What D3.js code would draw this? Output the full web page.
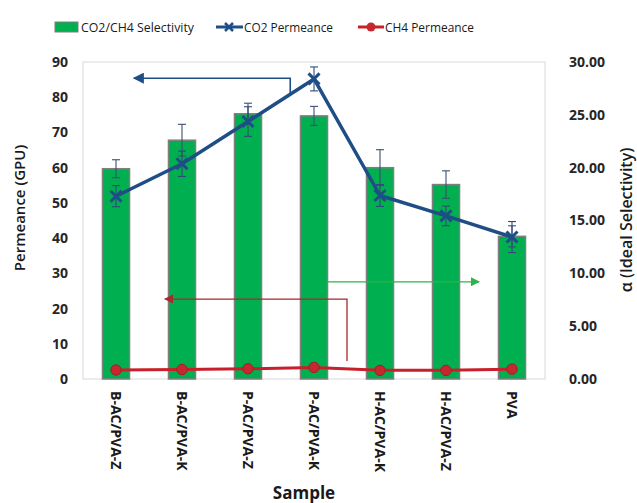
<!DOCTYPE html>
<html><head><meta charset="utf-8">
<script src="https://cdn.jsdelivr.net/npm/d3@7/dist/d3.min.js"></script>
<style>
body{margin:0;background:#fff;}
text{font-family:"Open Sans","Noto Sans",sans-serif;}
</style></head>
<body><svg id="c" width="637" height="503"></svg>
<script>
const samples = ["B-AC/PVA-Z","B-AC/PVA-K","P-AC/PVA-Z","P-AC/PVA-K","H-AC/PVA-K","H-AC/PVA-Z","PVA"];
const selectivity = [19.9, 22.6, 25.1, 24.9, 20.0, 18.4, 13.5];
const selectivityErr = [0.85, 1.5, 1.0, 0.9, 1.7, 1.3, 1.0];
const co2Permeance = [51.9, 61.1, 73.1, 85.2, 52.1, 46.3, 40.3];
const co2Err = [3.0, 3.6, 4.2, 3.4, 3.1, 2.8, 4.4];
const ch4Permeance = [2.55, 2.7, 2.9, 3.3, 2.45, 2.45, 2.8];
const leftTicks = [0,10,20,30,40,50,60,70,80,90];
const rightTicks = [0,5,10,15,20,25,30];
const legendLabels = ["CO2/CH4 Selectivity","CO2 Permeance","CH4 Permeance"];

const svg = d3.select("#c");
const L = 83, R = 545, T = 62, B = 379;
const x = d3.scaleBand().domain(samples).range([L, R]).padding(0);
const yL = d3.scaleLinear().domain([0, 90]).range([B, T]);
const yR = d3.scaleLinear().domain([0, 30]).range([B, T]);
const bw = x.bandwidth() * 0.41;
const cx = d => x(d) + x.bandwidth()/2;

// plot border
svg.append("rect").attr("x", L).attr("y", T).attr("width", R-L).attr("height", B-T)
  .attr("fill","none").attr("stroke","#d9d9d9").attr("stroke-width",1);

// bars
svg.append("g").selectAll("rect").data(samples).join("rect")
  .attr("x", d => cx(d) - bw/2)
  .attr("y", (d,i) => yR(selectivity[i]))
  .attr("width", bw)
  .attr("height", (d,i) => B - yR(selectivity[i]))
  .attr("fill", "#00b050").attr("stroke", "#7f7f7f").attr("stroke-width", 1.5);

// error bars helper
function errBars(vals, errs, scale, color){
  const g = svg.append("g").attr("stroke", color).attr("stroke-width", 1.1).attr("fill","none");
  samples.forEach((s,i) => {
    const xc = cx(s), y1 = scale(vals[i]+errs[i]), y2 = scale(vals[i]-errs[i]);
    g.append("line").attr("x1", xc).attr("x2", xc).attr("y1", y1).attr("y2", y2);
    g.append("line").attr("x1", xc-4).attr("x2", xc+4).attr("y1", y1).attr("y2", y1);
    g.append("line").attr("x1", xc-4).attr("x2", xc+4).attr("y1", y2).attr("y2", y2);
  });
}
errBars(selectivity, selectivityErr, yR, "#3d4f6e");

// CO2 line
const lineCO2 = d3.line().x((d,i) => cx(samples[i])).y(d => yL(d));
svg.append("path").datum(co2Permeance).attr("d", lineCO2)
  .attr("fill","none").attr("stroke","#1f4e86").attr("stroke-width",3.5).attr("stroke-linejoin","round");
errBars(co2Permeance, co2Err, yL, "#2e4a78");
const mk = svg.append("g").attr("stroke","#1f4e86").attr("stroke-width",3);
co2Permeance.forEach((v,i) => {
  const px = cx(samples[i]), py = yL(v), s = 5.5;
  mk.append("line").attr("x1",px-s).attr("y1",py-s).attr("x2",px+s).attr("y2",py+s);
  mk.append("line").attr("x1",px-s).attr("y1",py+s).attr("x2",px+s).attr("y2",py-s);
});

// CH4 line
svg.append("path").datum(ch4Permeance).attr("d", lineCO2)
  .attr("fill","none").attr("stroke","#c8202a").attr("stroke-width",3);
svg.append("g").selectAll("circle").data(ch4Permeance).join("circle")
  .attr("cx",(d,i)=>cx(samples[i])).attr("cy", d=>yL(d)).attr("r",5.2)
  .attr("fill","#c5292f").attr("stroke","#a61c22").attr("stroke-width",1);

// annotation arrows
const defs = svg.append("defs");
function marker(id, color){
  defs.append("marker").attr("id",id).attr("viewBox","0 0 10 10").attr("refX",9).attr("refY",5)
    .attr("markerWidth",7).attr("markerHeight",7).attr("orient","auto")
    .append("path").attr("d","M0,0L10,5L0,10z").attr("fill",color);
}
marker("mb","#1f4e86"); marker("mg","#2db34a"); marker("mr","#a8282c");
const bx = i => x(samples[0]) + i * x.bandwidth();
// blue -> left axis
svg.append("path").attr("d", d3.line()([[bx(3.14), yL(80.9)],[bx(3.14), yL(85.4)],[bx(0.77), yL(85.4)]]))
  .attr("fill","none").attr("stroke","#1f4e86").attr("stroke-width",1.6).attr("marker-end","url(#mb)");
// green -> right axis
svg.append("path").attr("d", d3.line()([[cx(samples[3])+bw/2, yR(9.2)],[bx(6.0), yR(9.2)]]))
  .attr("fill","none").attr("stroke","#2db34a").attr("stroke-width",1.3).attr("marker-end","url(#mg)");
// red -> left axis
svg.append("path").attr("d", d3.line()([[bx(4.0), yL(5.1)],[bx(4.0), yL(22.7)],[bx(1.24), yL(22.7)]]))
  .attr("fill","none").attr("stroke","#a8282c").attr("stroke-width",1.3).attr("marker-end","url(#mr)");

// axes
const axL = d3.axisLeft(yL).tickValues(leftTicks).tickSize(0).tickPadding(15);
const gL = svg.append("g").attr("transform",`translate(${L},0)`).call(axL);
gL.select(".domain").remove();
gL.selectAll("text").attr("font-size",14).attr("font-weight","bold").attr("fill","#262626");

const axR = d3.axisRight(yR).tickValues(rightTicks).tickFormat(d3.format(".2f")).tickSize(0).tickPadding(24);
const gR = svg.append("g").attr("transform",`translate(${R},0)`).call(axR);
gR.select(".domain").remove();
gR.selectAll("text").attr("font-size",14).attr("font-weight","bold").attr("fill","#262626");

const axB = d3.axisBottom(x).tickSize(0).tickPadding(0);
const gB = svg.append("g").attr("transform",`translate(0,${B})`).call(axB);
gB.select(".domain").remove();
gB.selectAll("text").attr("font-size",14).attr("font-weight","bold").attr("fill","#1a1a1a")
  .attr("text-anchor","start").attr("dy","0.35em")
  .attr("transform", function(d){ return `translate(0,12) rotate(90)`; })
  .attr("x",0).attr("y",0);

// axis titles
svg.append("text").attr("transform","translate(25,208) rotate(-90)").attr("text-anchor","middle")
  .attr("font-size",15).attr("font-weight","600").attr("fill","#1a1a1a").text("Permeance (GPU)");
svg.append("text").attr("transform","translate(632,220) rotate(-90)").attr("text-anchor","middle")
  .attr("font-size",16).attr("font-weight","600").attr("fill","#1a1a1a").text("α (Ideal  Selectivity)");
svg.append("text").attr("x",304).attr("y",499).attr("text-anchor","middle")
  .attr("font-size",17).attr("font-weight","bold").attr("fill","#1a1a1a").text("Sample");

// legend
const lg = svg.append("g").attr("font-size",13.5).attr("fill","#1a1a1a");
lg.append("rect").attr("x",55).attr("y",22).attr("width",23).attr("height",10).attr("fill","#00b050").attr("stroke","#7f7f7f").attr("stroke-width",1);
lg.append("text").attr("x",81).attr("y",31.5).attr("textLength",113).attr("lengthAdjust","spacingAndGlyphs").text(legendLabels[0]);
lg.append("line").attr("x1",216).attr("x2",243).attr("y1",27).attr("y2",27).attr("stroke","#1f4e86").attr("stroke-width",3);
lg.append("line").attr("x1",225).attr("x2",233).attr("y1",23).attr("y2",31).attr("stroke","#1f4e86").attr("stroke-width",2.5);
lg.append("line").attr("x1",225).attr("x2",233).attr("y1",31).attr("y2",23).attr("stroke","#1f4e86").attr("stroke-width",2.5);
lg.append("text").attr("x",244).attr("y",31.5).attr("textLength",89).attr("lengthAdjust","spacingAndGlyphs").text(legendLabels[1]);
lg.append("line").attr("x1",358).attr("x2",384).attr("y1",27).attr("y2",27).attr("stroke","#c8202a").attr("stroke-width",3);
lg.append("circle").attr("cx",371).attr("cy",27).attr("r",4.5).attr("fill","#c5292f");
lg.append("text").attr("x",385).attr("y",31.5).attr("textLength",89).attr("lengthAdjust","spacingAndGlyphs").text(legendLabels[2]);
</script></body></html>
